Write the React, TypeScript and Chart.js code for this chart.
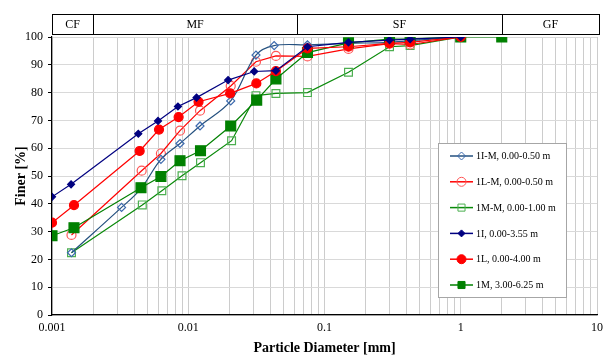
import React, { useEffect, useRef } from 'react';
import { Chart, registerables } from 'chart.js';

Chart.register(...registerables);

// ---- data ----
const seriesNames = [
  '1I-M, 0.00-0.50 m',
  '1L-M, 0.00-0.50 m',
  '1M-M, 0.00-1.00 m',
  '1I, 0.00-3.55 m',
  '1L, 0.00-4.00 m',
  '1M, 3.00-6.25 m',
];

const x1IM = [0.00139, 0.00324, 0.0045, 0.0063, 0.0087, 0.0122, 0.0205, 0.0314, 0.0427, 0.075, 0.15, 0.3, 0.425, 1];
const y1IM = [22.4, 38.7, 45.5, 56.0, 61.7, 68.0, 77.0, 93.5, 96.9, 97.2, 97.7, 98.1, 98.7, 100];

const x1LM = [0.00139, 0.00455, 0.0063, 0.0087, 0.0122, 0.0205, 0.0314, 0.044, 0.075, 0.15, 0.3, 0.425, 1];
const y1LM = [28.8, 51.9, 58.1, 66.3, 73.5, 82.4, 91.1, 93.2, 93.0, 95.7, 97.6, 97.3, 100];

const x1MM = [0.00139, 0.0046, 0.0064, 0.009, 0.0123, 0.0208, 0.0314, 0.044, 0.075, 0.15, 0.3, 0.425, 1];
const y1MM = [22.4, 39.6, 44.7, 50.1, 54.8, 62.7, 78.9, 79.7, 80.0, 87.3, 96.5, 96.9, 100];

const x1I = [0.001, 0.00138, 0.0043, 0.006, 0.0084, 0.0115, 0.0196, 0.0305, 0.044, 0.075, 0.15, 0.3, 0.425, 1];
const y1I = [42.5, 47.0, 65.2, 69.8, 75.0, 78.2, 84.5, 87.6, 87.9, 96.5, 98.1, 98.9, 99.2, 100];

const x1L = [0.001, 0.00145, 0.0044, 0.0061, 0.0085, 0.0119, 0.0203, 0.0316, 0.044, 0.075, 0.15, 0.3, 0.425, 1];
const y1L = [33.2, 39.5, 59.0, 66.7, 71.2, 76.7, 79.7, 83.3, 87.7, 95.9, 96.5, 97.7, 98.1, 100];

const x1M = [0.001, 0.00145, 0.0045, 0.0063, 0.0087, 0.0123, 0.0205, 0.0318, 0.044, 0.075, 0.15, 0.3, 0.425, 1, 2];
const y1M = [28.5, 31.4, 45.8, 49.8, 55.5, 59.1, 68.0, 77.3, 84.9, 94.4, 97.9, 99.2, 99.3, 100, 100];

const xTickLabels = ['0.001', '0.01', '0.1', '1', '10'];
const decades = [0.001, 0.01, 0.1, 1];
const bandEdges = [0.002, 0.063, 2];
const bandLabels = ['CF', 'MF', 'SF', 'GF'];

const FONT = "'Liberation Serif', 'Times New Roman', serif";

const pts = (xs: number[], ys: number[]) => xs.map((x, i) => ({ x, y: ys[i] }));

function drawMarker(ctx: CanvasRenderingContext2D, style: string, x: number, y: number, r: number, fill: string, stroke: string) {
  ctx.save();
  ctx.beginPath();
  if (style === 'circle') {
    ctx.arc(x, y, r, 0, Math.PI * 2);
  } else if (style === 'rect') {
    const s = r * Math.SQRT1_2;
    ctx.rect(x - s, y - s, 2 * s, 2 * s);
  } else {
    ctx.moveTo(x, y - r);
    ctx.lineTo(x + r, y);
    ctx.lineTo(x, y + r);
    ctx.lineTo(x - r, y);
    ctx.closePath();
  }
  ctx.fillStyle = fill;
  ctx.fill();
  ctx.lineWidth = 1;
  ctx.strokeStyle = stroke;
  ctx.stroke();
  ctx.restore();
}

const bandPlugin = {
  id: 'sizeBand',
  afterDraw(chart: any) {
    const { ctx, chartArea, scales } = chart;
    const xs = scales.x;
    const top = 14;
    const bottom = 34;
    const edges = [chartArea.left, ...bandEdges.map((v) => xs.getPixelForValue(v)), chartArea.right + 2];
    ctx.save();
    ctx.strokeStyle = '#000';
    ctx.lineWidth = 1;
    ctx.strokeRect(Math.round(edges[0]) + 0.5, top + 0.5, Math.round(edges[edges.length - 1] - edges[0]), bottom - top);
    for (let i = 1; i < edges.length - 1; i++) {
      const px = Math.round(edges[i]) + 0.5;
      ctx.beginPath();
      ctx.moveTo(px, top);
      ctx.lineTo(px, bottom);
      ctx.stroke();
    }
    ctx.fillStyle = '#000';
    ctx.font = `12px ${FONT}`;
    ctx.textAlign = 'center';
    ctx.textBaseline = 'middle';
    for (let i = 0; i < bandLabels.length; i++) {
      ctx.fillText(bandLabels[i], (edges[i] + edges[i + 1]) / 2, (top + bottom) / 2 + 1);
    }
    ctx.restore();
  },
};

const legendPlugin = {
  id: 'boxLegend',
  afterDraw(chart: any) {
    const { ctx } = chart;
    const bx = 438, by = 143, bw = 128, bh = 154;
    ctx.save();
    ctx.fillStyle = '#fff';
    ctx.fillRect(bx, by, bw, bh);
    ctx.strokeStyle = '#a6a6a6';
    ctx.lineWidth = 1;
    ctx.strokeRect(bx + 0.5, by + 0.5, bw, bh);
    chart.data.datasets.forEach((ds: any, i: number) => {
      const y = 156 + i * 25.8;
      ctx.beginPath();
      ctx.strokeStyle = ds.borderColor;
      ctx.lineWidth = 1.5;
      ctx.moveTo(450, y);
      ctx.lineTo(473, y);
      ctx.stroke();
      const r = Math.min(ds.pointRadius, 5);
      drawMarker(ctx, ds.pointStyle, 461.5, y, r, ds.pointBackgroundColor, ds.pointBorderColor);
      ctx.fillStyle = '#000';
      ctx.font = `10px ${FONT}`;
      ctx.textAlign = 'left';
      ctx.textBaseline = 'middle';
      ctx.fillText(ds.label, 476, y + 0.5);
    });
    ctx.restore();
  },
};

export default function App() {
  const ref = useRef<HTMLCanvasElement | null>(null);

  useEffect(() => {
    if (!ref.current) return;
    const clear = 'rgba(255,255,255,0)';
    const chart = new Chart(ref.current, {
      type: 'scatter',
      data: {
        datasets: [
          {
            label: seriesNames[0], data: pts(x1IM, y1IM), showLine: true, order: 1, tension: 0.35,
            borderColor: '#24507F', borderWidth: 1.2, pointStyle: 'rectRot', pointRadius: 4,
            pointBackgroundColor: clear, pointBorderColor: '#3C6AAE',
          },
          {
            label: seriesNames[1], data: pts(x1LM, y1LM), showLine: true, order: 1,
            borderColor: '#FF0000', borderWidth: 1.2, pointStyle: 'circle', pointRadius: 4.5,
            pointBackgroundColor: clear, pointBorderColor: '#FF5555',
          },
          {
            label: seriesNames[2], data: pts(x1MM, y1MM), showLine: true, order: 1,
            borderColor: '#0A8A0A', borderWidth: 1.2, pointStyle: 'rect', pointRadius: 5.5,
            pointBackgroundColor: clear, pointBorderColor: '#4CAF50',
          },
          {
            label: seriesNames[3], data: pts(x1I, y1I), showLine: true, order: 0,
            borderColor: '#000080', borderWidth: 1.2, pointStyle: 'rectRot', pointRadius: 3.5,
            pointBackgroundColor: '#000080', pointBorderColor: '#000080',
          },
          {
            label: seriesNames[4], data: pts(x1L, y1L), showLine: true, order: 0,
            borderColor: '#FF0000', borderWidth: 1.2, pointStyle: 'circle', pointRadius: 4.5,
            pointBackgroundColor: '#FF0000', pointBorderColor: '#FF0000',
          },
          {
            label: seriesNames[5], data: pts(x1M, y1M), showLine: true, order: 0,
            borderColor: '#008000', borderWidth: 1.2, pointStyle: 'rect', pointRadius: 7,
            pointBackgroundColor: '#008000', pointBorderColor: '#008000',
          },
        ],
      },
      options: {
        responsive: false,
        animation: false,
        layout: { padding: { top: 37, right: 13, left: 0, bottom: 0 } },
        plugins: { legend: { display: false }, tooltip: { enabled: false } },
        scales: {
          x: {
            type: 'logarithmic',
            min: 0.001,
            max: 10,
            afterBuildTicks: (scale: any) => {
              const t: any[] = [];
              decades.forEach((d) => {
                for (let k = 1; k <= 9; k++) t.push({ value: +(d * k).toPrecision(3) });
              });
              t.push({ value: 10 });
              scale.ticks = t;
            },
            afterFit: (scale: any) => { scale.height = 45; },
            grid: { color: '#cccccc', lineWidth: 1, drawTicks: false },
            border: { display: true, color: '#000', width: 1.2 },
            ticks: {
              autoSkip: false,
              maxRotation: 0,
              padding: 6,
              color: '#000',
              font: { family: FONT, size: 12 },
              callback: (v: any) => {
                const idx = [0.001, 0.01, 0.1, 1, 10].findIndex((d) => Math.abs(d - v) < d * 1e-6);
                return idx >= 0 ? xTickLabels[idx] : '';
              },
            },
            title: {
              display: true,
              text: 'Particle Diameter [mm]',
              color: '#000',
              font: { family: FONT, size: 14, weight: 'bold' },
              padding: { top: 0, bottom: 3 },
            },
          },
          y: {
            min: 0,
            max: 100,
            afterFit: (scale: any) => { scale.width = 52; },
            grid: {
              color: '#d9d9d9',
              lineWidth: 1,
              tickLength: 4,
              tickColor: (c: any) => (c.tick && c.tick.value % 10 === 0 ? '#000' : 'rgba(0,0,0,0)'),
            },
            border: { display: true, color: '#000', width: 1.2 },
            ticks: {
              stepSize: 5,
              padding: 5,
              color: '#000',
              font: { family: FONT, size: 12 },
              callback: (v: any) => (v % 10 === 0 ? String(v) : ''),
            },
            title: {
              display: true,
              text: 'Finer [%]',
              color: '#000',
              font: { family: FONT, size: 14, weight: 'bold' },
              padding: { top: 13, bottom: 0 },
            },
          },
        },
      },
      plugins: [bandPlugin, legendPlugin],
    } as any);
    return () => chart.destroy();
  }, []);

  return (
    <div style={{ position: 'absolute', left: 0, top: 0, width: 610, height: 360, background: '#fff' }}>
      <canvas ref={ref} width={610} height={360} />
    </div>
  );
}
